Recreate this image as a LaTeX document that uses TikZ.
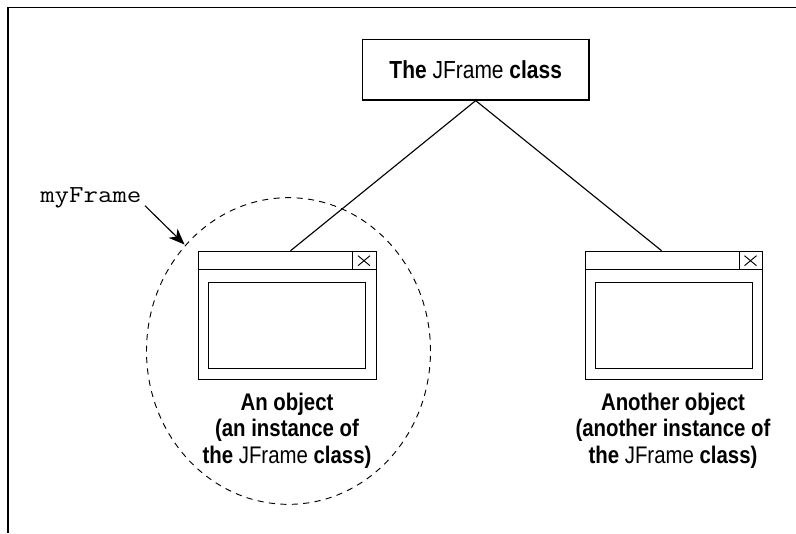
\documentclass[tikz,border=0pt]{standalone}
\usepackage{fontspec}
\usetikzlibrary{arrows.meta,calc,shapes.geometric}
\setmainfont{Liberation Sans}[FakeStretch=0.85]
\tikzset{
  x=0.75pt,y=-0.75pt,
  line/.style={draw=black,line width=0.85pt},
  winbox/.style={line,rectangle,inner sep=0pt,minimum width=133.2pt,minimum height=96.2pt,anchor=north west},
  inbox/.style={line,rectangle,inner sep=0pt,minimum width=117.7pt,minimum height=64.6pt,anchor=north west},
  classbox/.style={line,rectangle,inner sep=0pt,minimum width=170pt,minimum height=45.5pt,font=\fontsize{18.5}{20}\selectfont},
  caption/.style={align=center,inner sep=0pt,font=\fontsize{18}{20}\selectfont\bfseries,anchor=base},
  code/.style={font=\fontsize{18.3}{20}\ttfamily,inner sep=0pt,anchor=base west}
}
\newcommand{\jf}{{\mdseries JFrame}}
\newcommand{\winparts}[2]{%
  \node[winbox] (#1) at (#2) {};
  \node[inbox] (#1in) at ($(#2)+(10.3,30.8)$) {};
  \coordinate (#1tl) at ($(#2)+(0,18.6)$);
  \coordinate (#1tr) at ($(#2)+(177.6,18.6)$);
  \coordinate (#1da) at ($(#2)+(154.8,0)$);
  \coordinate (#1xa) at ($(#2)+(160,5)$);
  \coordinate (#1xb) at ($(#2)+(172,15)$);
  \coordinate (#1xc) at ($(#2)+(160,15)$);
  \coordinate (#1xd) at ($(#2)+(172,5)$);
  \draw[line] (#1tl) -- (#1tr);
  \draw[line] (#1da) -- (#1da |- #1tl);
  \draw[line,line width=0.7pt] (#1xa) -- (#1xb);
  \draw[line,line width=0.7pt] (#1xc) -- (#1xd);
}
\begin{document}
\begin{tikzpicture}
\useasboundingbox (0,0) rectangle (796,533);
\coordinate (fb) at (8,533);
\coordinate (ftl) at (8,7.5);
\coordinate (fr) at (796,7.5);
\draw[line] (fb) -- (ftl) -- (fr);
\node[classbox] (cls) at (475.7,69.7) {\textbf{The} \jf{} \textbf{class}};
\winparts{wa}{198,250.7}
\winparts{wb}{584.5,250.7}
\coordinate (wat) at ($(wa.north)+(3.2,0)$);
\coordinate (wbt) at ($(wb.north)+(-12.3,0)$);
\draw[line] (cls.south) -- (wat);
\draw[line] (cls.south) -- (wbt);
\node[caption] (ca) at (287,463.5) {An object\\(an instance of\\the \jf{} class)};
\node[caption] (cb) at (673,463.5) {Another object\\(another instance of\\the \jf{} class)};
\node[code] (my) at (40,202) {\scalebox{1.15}[1]{myFrame}};
\node[draw=black,line width=0.7pt,ellipse,dash pattern=on 4.6pt off 4pt,minimum width=213pt,minimum height=230pt,inner sep=0pt] (ring) at (288.5,351) {};
\coordinate (as) at (145,205.7);
\coordinate (ae) at (184.5,244.5);
\draw[line,-{Stealth[length=12pt,width=9.5pt,inset=3.5pt]}] (as) -- (ae);
\end{tikzpicture}
\end{document}
